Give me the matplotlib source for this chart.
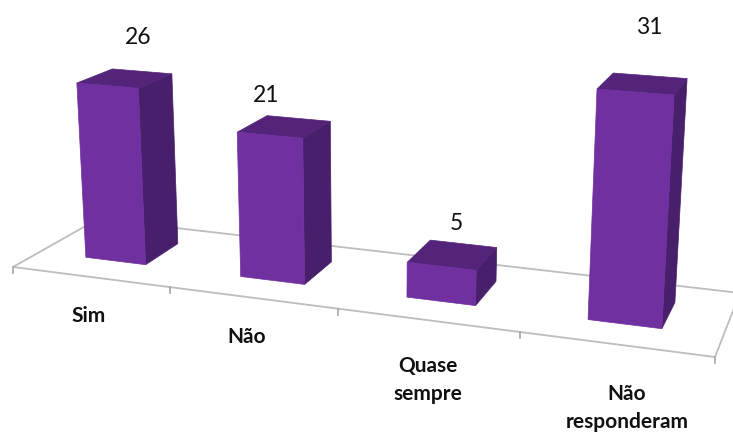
import numpy as np
import matplotlib
matplotlib.use("Agg")
import matplotlib.pyplot as plt
from matplotlib.patches import Polygon

categories = ["Sim", "Não", "Quase\nsempre", "Não\nresponderam"]
values = [26, 21, 5, 31]

W, H = 733, 437
FRONT, TOP, SIDE = "#7030A0", "#54247A", "#471F6B"
AXIS = "#BDBDBD"

# camera: pixel positions of the floor corners (x category units, y depth 0..1)
floor_src = np.array([[0, 0], [4, 0], [0, 1], [4, 1]], float)
floor_dst = np.array([[13, 267], [715, 357], [98, 219], [740, 293]], float)
vanish = np.array([374.0, 5824.0, 1.0])   # vanishing point of verticals
z_scale = -0.00119                        # height per unit value

A, b = [], []
for (u, v), (px, py) in zip(floor_src, floor_dst):
    A.append([u, v, 1, 0, 0, 0, -u * px, -v * px]); b.append(px)
    A.append([0, 0, 0, u, v, 1, -u * py, -v * py]); b.append(py)
h = np.linalg.solve(np.array(A), np.array(b))
Hm = np.array([[h[0], h[1], h[2]], [h[3], h[4], h[5]], [h[6], h[7], 1.0]])


def project(x, y, z=0.0):
    p = Hm @ np.array([x, y, 1.0]) + z * z_scale * vanish
    return p[:2] / p[2]


BAR_W = 0.39
D0, D1 = 0.30, 0.72
bar_offset = [0.50, 0.49, 0.483, 0.49]
label_xy = [(138, 37), (266, 95), (456, 223), (649, 27)]
cat_xy = [(89, 316), (247, 337), (428, 380), (627, 408)]

fig = plt.figure(figsize=(W / 100, H / 100), dpi=100)
ax = fig.add_axes([0, 0, 1, 1])
ax.set_xlim(0, W)
ax.set_ylim(H, 0)
ax.axis("off")

floor = [project(0, 0), project(4, 0), project(4, 1), project(0, 1)]
ax.add_patch(Polygon(floor, closed=True, fc="none", ec=AXIS, lw=1.3, zorder=1))
for i in range(5):
    px, py = project(i, 0)
    ax.plot([px, px], [py, py + 6], color="#A6A6A6", lw=1.2, zorder=1)

for i, v in enumerate(values):
    x0, x1 = i + bar_offset[i] - BAR_W / 2, i + bar_offset[i] + BAR_W / 2
    front = [project(x0, D0), project(x1, D0), project(x1, D0, v), project(x0, D0, v)]
    side = [project(x1, D0), project(x1, D1), project(x1, D1, v), project(x1, D0, v)]
    top = [project(x0, D0, v), project(x1, D0, v), project(x1, D1, v), project(x0, D1, v)]
    ax.add_patch(Polygon(side, closed=True, fc=SIDE, ec=SIDE, lw=0.5, zorder=2))
    ax.add_patch(Polygon(top, closed=True, fc=TOP, ec=TOP, lw=0.5, zorder=2))
    ax.add_patch(Polygon(front, closed=True, fc=FRONT, ec=FRONT, lw=0.5, zorder=3))
    ax.text(*label_xy[i], str(v), ha="center", va="center", fontsize=16.5,
            family="Lato", color="#111111")
    ax.text(*cat_xy[i], categories[i], ha="center", va="center", fontsize=15,
            family="Lato", fontweight="bold", color="#111111", linespacing=1.45)

fig.savefig("out.png", dpi=100)
